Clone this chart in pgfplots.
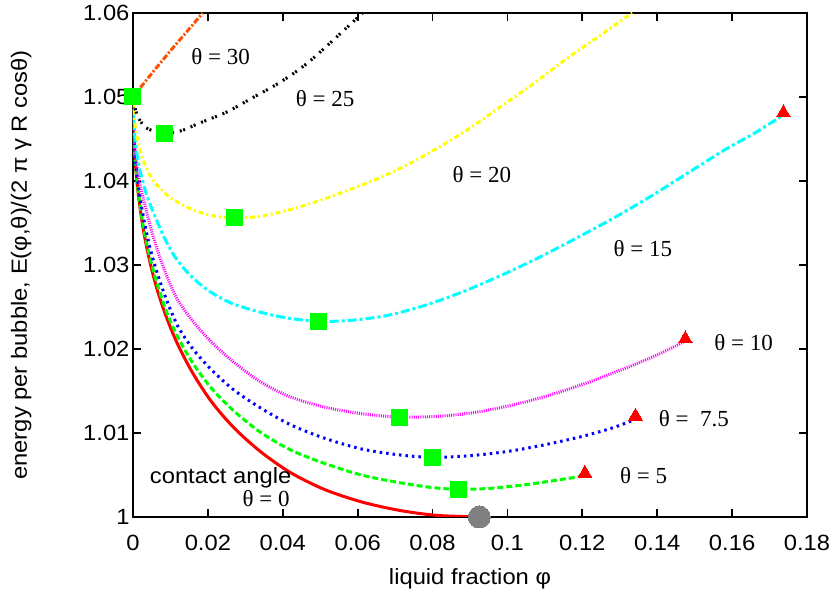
\documentclass[border=0pt]{standalone}
\usepackage{pgfplots}
\pgfplotsset{compat=1.18}
\usepackage{fontspec}
\setmainfont{Liberation Sans}[FakeStretch=1.08]
\newfontfamily\serif{Liberation Serif}
\definecolor{myorange}{RGB}{255,80,0}
\definecolor{mygreen}{RGB}{0,255,0}
\definecolor{mycyan}{RGB}{0,255,255}
\definecolor{myyellow}{RGB}{255,255,0}
\definecolor{mymag}{RGB}{255,0,255}
\definecolor{mygrey}{RGB}{128,128,128}
\newcommand{\fs}{\fontsize{22}{26}\selectfont}
\begin{document}
\begin{tikzpicture}
\begin{axis}[name=ax,
  width=674pt, height=504pt, scale only axis,
  xmin=0, xmax=0.18, ymin=1, ymax=1.06,
  axis line style={line width=2.2pt},
  tick style={line width=1.8pt, black},
  major tick length=8pt,
  tick align=inside,
  xtick={0,0.02,0.04,0.06,0.08,0.1,0.12,0.14,0.16,0.18},
  xticklabels={0,0.02,0.04,0.06,0.08,0.1,0.12,0.14,0.16,0.18},
  ytick={1,1.01,1.02,1.03,1.04,1.05,1.06},
  yticklabels={1,1.01,1.02,1.03,1.04,1.05,1.06},
  ticklabel style={font=\fs},
  xticklabel style={yshift=-15pt},
  xlabel={liquid fraction φ},
  ylabel={energy per bubble, E(φ,θ)/(2 π γ R cosθ)},
  label style={font=\fs},
  xlabel style={at={(axis description cs:0.5,-0.123)}, anchor=center},
  ylabel style={at={(axis description cs:-0.166,0.5)}, anchor=center},
  every axis plot/.append style={line width=3pt},
]
% theta = 0
\addplot[red, smooth, line cap=round] coordinates {
(0,1.0500)(0.0002,1.0455)(0.0006,1.0423)(0.0012,1.0393)(0.002,1.0364)(0.003,1.0336)(0.0045,1.0304)(0.0065,1.0270)(0.009,1.0237)(0.012,1.0205)(0.016,1.0171)(0.021,1.0137)(0.027,1.0106)(0.034,1.0078)(0.042,1.0053)(0.051,1.0033)(0.061,1.0018)(0.071,1.0008)(0.081,1.0002)(0.0925,1.0000)};
% theta = 5
\addplot[mygreen, smooth, dash pattern=on 6pt off 3pt] coordinates {
(0,1.0500)(0.0002,1.0456)(0.0006,1.0424)(0.0012,1.0395)(0.002,1.0367)(0.003,1.0340)(0.0045,1.0309)(0.0065,1.0277)(0.009,1.0244)(0.012,1.0214)(0.016,1.0183)(0.021,1.0153)(0.027,1.0126)(0.034,1.0101)(0.042,1.0080)(0.051,1.0064)(0.061,1.0050)(0.071,1.0041)(0.080,1.0035)(0.0869,1.0033)(0.095,1.0034)(0.104,1.0038)(0.112,1.0043)(0.1205,1.0049)};
% theta = 7.5
\addplot[blue, smooth, dash pattern=on 2.5pt off 4pt] coordinates {
(0,1.0500)(0.0002,1.0458)(0.0006,1.0428)(0.0012,1.0402)(0.002,1.0377)(0.003,1.0352)(0.0045,1.0321)(0.0065,1.0290)(0.009,1.0258)(0.012,1.0227)(0.016,1.0200)(0.021,1.0175)(0.027,1.0151)(0.034,1.0130)(0.042,1.0110)(0.051,1.0094)(0.061,1.0081)(0.071,1.0074)(0.0799,1.0071)(0.090,1.0073)(0.100,1.0078)(0.110,1.0086)(0.120,1.0096)(0.128,1.0106)(0.134,1.0116)};
% theta = 10
\addplot[mymag, smooth, dash pattern=on 1pt off 1.2pt] coordinates {
(0,1.0500)(0.0002,1.0462)(0.0006,1.0436)(0.0012,1.0413)(0.002,1.0393)(0.003,1.0375)(0.0045,1.0348)(0.0065,1.0318)(0.009,1.0287)(0.012,1.0258)(0.016,1.0233)(0.021,1.0208)(0.027,1.0184)(0.034,1.0161)(0.042,1.0143)(0.051,1.0131)(0.061,1.0123)(0.0712,1.0119)(0.082,1.0120)(0.092,1.0125)(0.102,1.0134)(0.112,1.0146)(0.122,1.0161)(0.132,1.0178)(0.140,1.0193)(0.1473,1.0209)};
% theta = 15
\addplot[mycyan, smooth, dash pattern=on 9pt off 3pt on 3pt off 3pt] coordinates {
(0,1.0500)(0.0002,1.0470)(0.0006,1.0448)(0.0012,1.0428)(0.002,1.0410)(0.0036,1.0384)(0.0055,1.0362)(0.0080,1.0336)(0.011,1.0311)(0.015,1.0289)(0.020,1.0270)(0.026,1.0255)(0.033,1.0245)(0.041,1.0237)(0.0495,1.0233)(0.058,1.0234)(0.068,1.0240)(0.078,1.0252)(0.088,1.0268)(0.098,1.0287)(0.108,1.0308)(0.118,1.0331)(0.128,1.0355)(0.138,1.0381)(0.148,1.0409)(0.158,1.0437)(0.166,1.0457)(0.1735,1.0478)};
% theta = 20
\addplot[myyellow, smooth, dash pattern=on 5pt off 3pt on 2pt off 3pt] coordinates {
(0,1.0500)(0.0002,1.0480)(0.0006,1.0464)(0.0012,1.0450)(0.0022,1.0432)(0.0035,1.0416)(0.0053,1.0401)(0.0075,1.0390)(0.0100,1.0380)(0.0135,1.0371)(0.0170,1.0364)(0.0220,1.0358)(0.0271,1.0356)(0.0340,1.0358)(0.0420,1.0366)(0.0500,1.0377)(0.0580,1.0390)(0.0660,1.0404)(0.0740,1.0421)(0.0820,1.0441)(0.0900,1.0463)(0.0980,1.0488)(0.1067,1.0515)(0.1150,1.0543)(0.1240,1.0571)(0.1333,1.0600)};
% theta = 25
\addplot[black, smooth, dash pattern=on 2pt off 1.5pt on 2pt off 6pt] coordinates {
(0,1.0500)(0.0005,1.0488)(0.0010,1.0480)(0.0020,1.0471)(0.0040,1.0462)(0.0085,1.0457)(0.0130,1.0460)(0.0178,1.0469)(0.0250,1.0482)(0.0311,1.0497)(0.0391,1.0517)(0.0462,1.0539)(0.0533,1.0567)(0.0613,1.0600)};
% theta = 30
\addplot[myorange, smooth, dash pattern=on 6pt off 2pt on 2pt off 2pt] coordinates {
(0,1.0500)(0.0050,1.0528)(0.0100,1.0555)(0.0150,1.0581)(0.0186,1.0600)};
% minima
\addplot[only marks, mark=square*, mark size=8pt, mark options={fill=mygreen, draw=mygreen, line width=0pt}] coordinates {
(0,1.0500)(0.0085,1.0457)(0.0271,1.0356)(0.0495,1.0233)(0.0712,1.0119)(0.0799,1.0071)(0.0869,1.0033)};
% end points
\addplot[only marks, mark=triangle*, mark size=8pt, mark options={fill=red, draw=red, line width=0pt}] coordinates {
(0.1207,1.0052)(0.1342,1.0120)(0.1475,1.0212)(0.1737,1.0481)};
\addplot[only marks, mark=*, mark size=11pt, mark options={fill=mygrey, draw=mygrey, line width=0pt}] coordinates {(0.0925,1.0)};
% labels
\node[font=\serif\fontsize{23}{26}\selectfont] at (axis cs:0.0234,1.0548) {θ = 30};
\node[font=\serif\fontsize{23}{26}\selectfont] at (axis cs:0.0513,1.0498) {θ = 25};
\node[font=\serif\fontsize{23}{26}\selectfont] at (axis cs:0.0932,1.0408) {θ = 20};
\node[font=\serif\fontsize{23}{26}\selectfont] at (axis cs:0.1362,1.0319) {θ = 15};
\node[font=\serif\fontsize{23}{26}\selectfont] at (axis cs:0.1631,1.0208) {θ = 10};
\node[font=\serif\fontsize{23}{26}\selectfont] at (axis cs:0.1498,1.0117) {θ =\ \ 7.5};
\node[font=\serif\fontsize{23}{26}\selectfont] at (axis cs:0.1364,1.0049) {θ = 5};
\node[font=\fs] at (axis cs:0.0234,1.0047) {contact angle};
\node[font=\serif\fontsize{23}{26}\selectfont, anchor=east] at (axis cs:0.0428,1.0022) {θ = 0};
\end{axis}
\pgfresetboundingbox
\path (ax.south west) ++(-133pt,-79pt) rectangle ++(839pt,596pt);
\end{tikzpicture}
\end{document}
